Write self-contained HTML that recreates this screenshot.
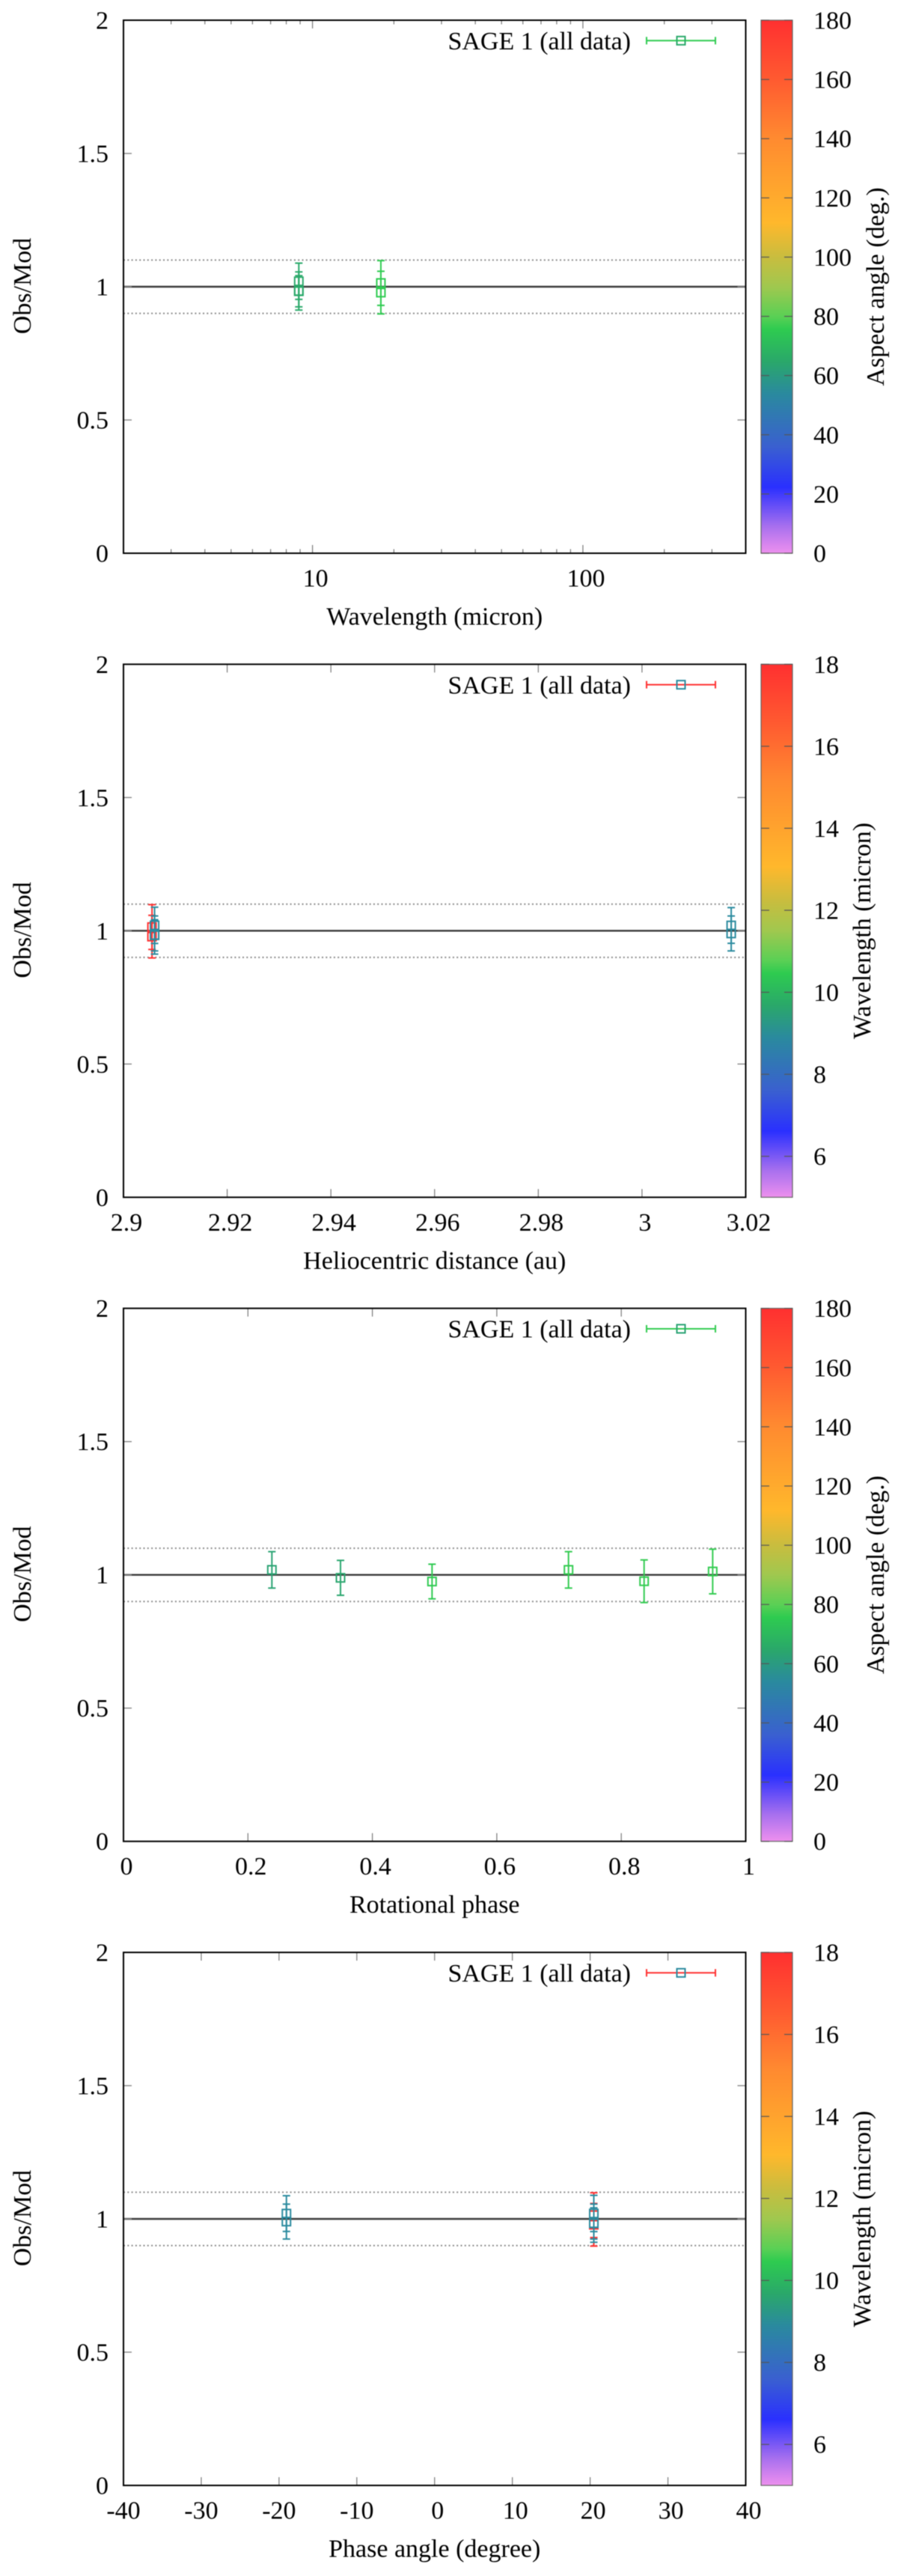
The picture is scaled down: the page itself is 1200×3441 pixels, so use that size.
<!DOCTYPE html>
<html lang="en">
<head>
<meta charset="utf-8">
<title>SAGE 1 Obs/Mod residual plots</title>
<style>
html,body{margin:0;padding:0;background:#fff}
svg{display:block;filter:blur(0.4px)}
text{font-family:"Liberation Serif",serif;font-size:34px;fill:#000}
</style>
</head>
<body>
<svg id="figure" xmlns="http://www.w3.org/2000/svg" width="1200" height="3441" viewBox="0 0 1200 3441"></svg>
<script>
// Panel 1: Wavelength
const wavelengthPanelX = [17.9, 17.9, 8.9, 8.9, 8.9];
const wavelengthPanelY = [1.014, 0.978, 1.0205, 0.984, 0.983];
const wavelengthPanelErr = [0.084, 0.08, 0.068, 0.0716, 0.0585];
const wavelengthPanelCb = [75.6, 75.6, 65, 65, 65];
const wavelengthPanelXTicks = [10, 100];
const wavelengthPanelXMinor = [3, 4, 5, 6, 7, 8, 9, 20, 30, 40, 50, 60, 70, 80, 90, 200, 300];

// Panel 2: Heliocentric distance
const distancePanelX = [2.9055, 2.9055, 2.906, 2.906, 2.906, 3.0172, 3.0172];
const distancePanelY = [1.014, 0.978, 1.0205, 0.984, 0.983, 1.02, 0.99];
const distancePanelErr = [0.084, 0.08, 0.068, 0.0716, 0.0585, 0.067, 0.0655];
const distancePanelCb = [18, 18, 8.9, 8.9, 8.9, 8.9, 8.9];
const distancePanelXTicks = [2.9, 2.92, 2.94, 2.96, 2.98, 3, 3.02];

// Panel 3: Rotational phase
const phasePanelX = [0.2385, 0.3488, 0.4959, 0.7152, 0.8367, 0.9469];
const phasePanelY = [1.0187, 0.9888, 0.975, 1.0187, 0.976, 1.0126];
const phasePanelErr = [0.0683, 0.0655, 0.065, 0.0683, 0.08, 0.0838];
const phasePanelCb = [63, 64, 75, 76, 76, 76];
const phasePanelXTicks = [0, 0.2, 0.4, 0.6, 0.8, 1];

// Panel 4: Phase angle
const anglePanelX = [20.47, 20.47, -19.05, -19.05, 20.47, 20.47, 20.47];
const anglePanelY = [1.014, 0.978, 1.02, 0.99, 1.0205, 0.984, 0.983];
const anglePanelErr = [0.084, 0.08, 0.067, 0.0655, 0.068, 0.0716, 0.0585];
const anglePanelCb = [18, 18, 8.9, 8.9, 8.9, 8.9, 8.9];
const anglePanelXTicks = [-40, -30, -20, -10, 0, 10, 20, 30, 40];

// Shared axes
const yTicks = [0, 0.5, 1, 1.5, 2];
const aspectCbTicks = [0, 20, 40, 60, 80, 100, 120, 140, 160, 180];
const wavelengthCbTicks = [6, 8, 10, 12, 14, 16, 18];
const referenceLevels = [0.9, 1.1];

// Colour palette: fraction of colour range and colour
const paletteFractions = [0, 0.05, 0.124, 0.2, 0.3, 0.36, 0.42, 0.444, 0.5, 0.555, 0.62, 0.78, 0.89, 1];
const paletteColors = ['#ee90ee', '#a870ee', '#2a30ff', '#3a60d0', '#2a8a9e', '#2aa86a', '#2ecb50', '#5ad055', '#a0c84f', '#c8bd3f', '#ffb82c', '#ff8a30', '#ff5a30', '#ff3030'];

const NS = 'http://www.w3.org/2000/svg';
const figure = document.getElementById('figure');
const PLOT_LEFT = 165, PLOT_RIGHT = 996.5, PLOT_H = 712;
const CB_LEFT = 1017, CB_RIGHT = 1059;

function node(tag, parent) {
  const el = document.createElementNS(NS, tag);
  parent.appendChild(el);
  return el;
}
function line(parent, x1, y1, x2, y2, stroke, width) {
  const el = node('line', parent);
  el.setAttribute('x1', x1);
  el.setAttribute('y1', y1);
  el.setAttribute('x2', x2);
  el.setAttribute('y2', y2);
  el.setAttribute('stroke', stroke);
  el.setAttribute('stroke-width', width);
  return el;
}
function label(parent, x, y, str, anchor, rotate) {
  const el = node('text', parent);
  el.setAttribute('text-anchor', anchor);
  if (rotate) {
    el.setAttribute('transform', 'translate(' + x + ',' + y + ') rotate(-90)');
  } else {
    el.setAttribute('x', x);
    el.setAttribute('y', y);
  }
  el.textContent = str;
  return el;
}
function hexToRgb(hex) {
  return [parseInt(hex.slice(1, 3), 16), parseInt(hex.slice(3, 5), 16), parseInt(hex.slice(5, 7), 16)];
}
function paletteAt(f) {
  const t = Math.max(0, Math.min(1, f));
  for (let i = 1; i < paletteFractions.length; i++) {
    if (t <= paletteFractions[i]) {
      const a = paletteFractions[i - 1], b = paletteFractions[i];
      const u = (t - a) / (b - a);
      const c0 = hexToRgb(paletteColors[i - 1]), c1 = hexToRgb(paletteColors[i]);
      return 'rgb(' + c0.map(function (v, k) { return Math.round(v + (c1[k] - v) * u); }).join(',') + ')';
    }
  }
  return paletteColors[paletteColors.length - 1];
}

// Shared colour-bar gradient
const defs = node('defs', figure);
const gradient = node('linearGradient', defs);
gradient.setAttribute('id', 'cb-gradient');
gradient.setAttribute('x1', '0');
gradient.setAttribute('y1', '1');
gradient.setAttribute('x2', '0');
gradient.setAttribute('y2', '0');
paletteFractions.forEach(function (f, i) {
  const stop = node('stop', gradient);
  stop.setAttribute('offset', f);
  stop.setAttribute('stop-color', paletteColors[i]);
});

function drawPanel(cfg) {
  const top = cfg.top, bottom = top + PLOT_H;
  const w = PLOT_RIGHT - PLOT_LEFT;
  const sx = cfg.log
    ? function (v) { return PLOT_LEFT + (Math.log10(v) - Math.log10(cfg.xMin)) / (Math.log10(cfg.xMax) - Math.log10(cfg.xMin)) * w; }
    : function (v) { return PLOT_LEFT + (v - cfg.xMin) / (cfg.xMax - cfg.xMin) * w; };
  const sy = function (v) { return bottom - v / 2 * PLOT_H; };
  const cbFrac = function (v) { return (v - cfg.cbMin) / (cfg.cbMax - cfg.cbMin); };
  const cbY = function (v) { return bottom - cbFrac(v) * PLOT_H; };

  const panel = node('g', figure);
  
  

  // Reference lines
  referenceLevels.forEach(function (lv) {
    const d = line(panel, PLOT_LEFT, sy(lv), PLOT_RIGHT, sy(lv), '#8a8a8a', 2);
    d.setAttribute('stroke-dasharray', '2 3.3');
    
    
  });
  const unity = line(panel, PLOT_LEFT, sy(1), PLOT_RIGHT, sy(1), '#3a3a3a', 2.4);
  
  

  // Y axis ticks and labels
  yTicks.forEach(function (v) {
    if (v > 0 && v < 2) {
      const t1 = line(panel, PLOT_LEFT, sy(v), PLOT_LEFT + 11, sy(v), '#888', 1.4);
      
      
      const t2 = line(panel, PLOT_RIGHT - 11, sy(v), PLOT_RIGHT, sy(v), '#888', 1.4);
      
      
    }
    const yl = label(panel, 145, sy(v) + 11.5, String(v), 'end', false);
    
    
  });

  // X axis ticks and labels
  cfg.xTicks.forEach(function (v) {
    const x = sx(v);
    if (x > PLOT_LEFT + 1 && x < PLOT_RIGHT - 1) {
      const t1 = line(panel, x, bottom, x, bottom - 11, '#777', 1.2);
      
      
      const t2 = line(panel, x, top, x, top + 11, '#777', 1.2);
      
      
    }
    const dx = v < 0 ? 0 : 4;
    const xl = label(panel, x + dx, bottom + 44.5, String(v), 'middle', false);
    
    
  });
  (cfg.xMinor || []).forEach(function (v) {
    const x = sx(v);
    const t1 = line(panel, x, bottom, x, bottom - 5.5, '#777', 1.2);
    
    
    const t2 = line(panel, x, top, x, top + 5.5, '#777', 1.2);
    
    
  });

  // Data points
  cfg.x.forEach(function (xv, i) {
    const color = paletteAt(cbFrac(cfg.cb[i]));
    const g = node('g', panel);
    
    
    const px = sx(xv), py = sy(cfg.y[i]);
    const hi = sy(cfg.y[i] + cfg.err[i]), lo = sy(cfg.y[i] - cfg.err[i]);
    const bar = line(g, px, hi, px, lo, color, 2);
    
    
    const capHi = line(g, px - 5, hi, px + 5, hi, color, 2);
    
    
    const capLo = line(g, px - 5, lo, px + 5, lo, color, 2);
    
    
    const box = node('rect', g);
    box.setAttribute('x', px - 5.5);
    box.setAttribute('y', py - 5.5);
    box.setAttribute('width', 11);
    box.setAttribute('height', 11);
    box.setAttribute('fill', 'none');
    box.setAttribute('stroke', color);
    box.setAttribute('stroke-width', 2);
    
    
  });

  // Frame
  const frame = node('rect', panel);
  frame.setAttribute('x', PLOT_LEFT);
  frame.setAttribute('y', top);
  frame.setAttribute('width', w);
  frame.setAttribute('height', PLOT_H);
  frame.setAttribute('fill', 'none');
  frame.setAttribute('stroke', '#000');
  frame.setAttribute('stroke-width', 2);
  
  

  // Legend
  const legend = node('g', panel);
  
  
  const legendText = label(legend, 843, top + 39, 'SAGE 1 (all data)', 'end', false);
  
  
  const legY = top + 27.3;
  const lineColor = paletteAt(cbFrac(Math.max.apply(null, cfg.cb)));
  const boxColor = paletteAt(cbFrac(Math.min.apply(null, cfg.cb)));
  const legLine = line(legend, 864, legY, 956, legY, lineColor, 2);
  
  
  const legCapL = line(legend, 864, legY - 5, 864, legY + 5, lineColor, 2);
  
  
  const legCapR = line(legend, 956, legY - 5, 956, legY + 5, lineColor, 2);
  
  
  const legBox = node('rect', legend);
  legBox.setAttribute('x', 910 - 5.5);
  legBox.setAttribute('y', legY - 5.5);
  legBox.setAttribute('width', 11);
  legBox.setAttribute('height', 11);
  legBox.setAttribute('fill', 'none');
  legBox.setAttribute('stroke', boxColor);
  legBox.setAttribute('stroke-width', 2);
  
  

  // Titles
  const xTitle = label(panel, 580.75, bottom + 95.5, cfg.xTitle, 'middle', false);
  
  
  const yTitle = label(panel, 41, top + 355, 'Obs/Mod', 'middle', true);
  
  

  // Colour bar
  const bar = node('rect', panel);
  bar.setAttribute('x', CB_LEFT);
  bar.setAttribute('y', top);
  bar.setAttribute('width', CB_RIGHT - CB_LEFT);
  bar.setAttribute('height', PLOT_H);
  bar.setAttribute('fill', 'url(#cb-gradient)');
  bar.setAttribute('stroke', '#666');
  bar.setAttribute('stroke-width', 1.2);
  
  
  cfg.cbTicks.forEach(function (v) {
    const y = cbY(v);
    const t1 = line(panel, CB_LEFT, y, CB_LEFT + 11, y, '#555', 1.2);
    
    
    const t2 = line(panel, CB_RIGHT - 11, y, CB_RIGHT, y, '#555', 1.2);
    
    
    const tl = label(panel, 1087, y + 11.5, String(v), 'start', false);
    
    
  });
  const cbTitle = label(panel, cfg.cbTitleX, top + 356, cfg.cbTitle, 'middle', true);
  
  
}

drawPanel({
  name: 'wavelength', top: 27, log: true, xMin: 2, xMax: 400,
  x: wavelengthPanelX, y: wavelengthPanelY, err: wavelengthPanelErr, cb: wavelengthPanelCb,
  xTicks: wavelengthPanelXTicks, xMinor: wavelengthPanelXMinor,
  xTitle: 'Wavelength (micron)', cbMin: 0, cbMax: 180, cbTicks: aspectCbTicks,
  cbTitle: 'Aspect angle (deg.)', cbTitleX: 1181
});
drawPanel({
  name: 'heliocentric-distance', top: 887.33, log: false, xMin: 2.9, xMax: 3.02,
  x: distancePanelX, y: distancePanelY, err: distancePanelErr, cb: distancePanelCb,
  xTicks: distancePanelXTicks,
  xTitle: 'Heliocentric distance (au)', cbMin: 5, cbMax: 18, cbTicks: wavelengthCbTicks,
  cbTitle: 'Wavelength (micron)', cbTitleX: 1163
});
drawPanel({
  name: 'rotational-phase', top: 1747.67, log: false, xMin: 0, xMax: 1,
  x: phasePanelX, y: phasePanelY, err: phasePanelErr, cb: phasePanelCb,
  xTicks: phasePanelXTicks,
  xTitle: 'Rotational phase', cbMin: 0, cbMax: 180, cbTicks: aspectCbTicks,
  cbTitle: 'Aspect angle (deg.)', cbTitleX: 1181
});
drawPanel({
  name: 'phase-angle', top: 2608, log: false, xMin: -40, xMax: 40,
  x: anglePanelX, y: anglePanelY, err: anglePanelErr, cb: anglePanelCb,
  xTicks: anglePanelXTicks,
  xTitle: 'Phase angle (degree)', cbMin: 5, cbMax: 18, cbTicks: wavelengthCbTicks,
  cbTitle: 'Wavelength (micron)', cbTitleX: 1163
});
</script>
</body>
</html>
